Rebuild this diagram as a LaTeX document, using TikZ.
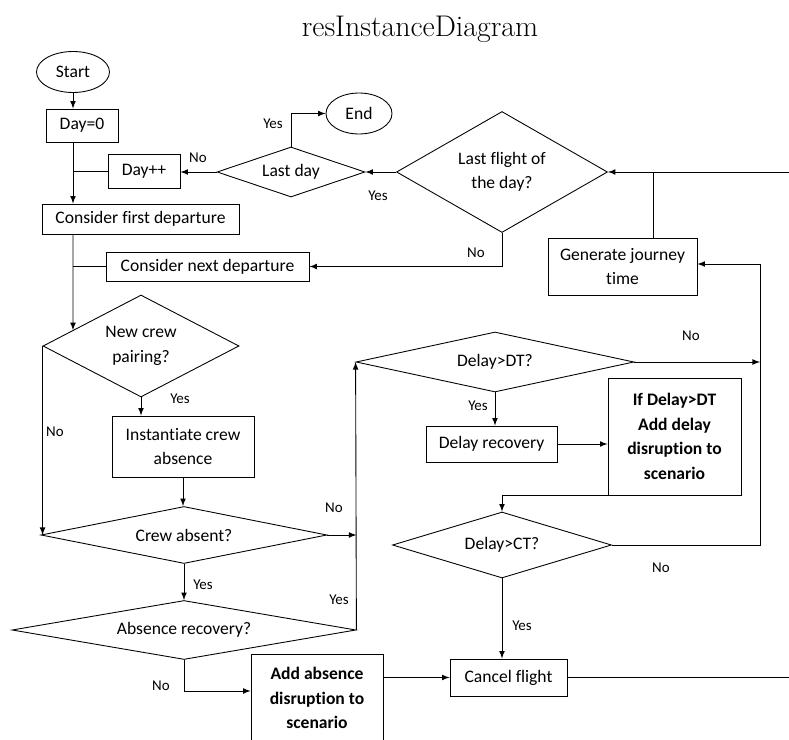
\documentclass[tikz,border=0pt]{standalone}
\usepackage{fontspec}
\newfontfamily\calibri[Ligatures=NoCommon]{Carlito}
\usetikzlibrary{shapes.geometric, arrows}
\tikzstyle{terminal} = [ellipse, 
draw=black, 
inner sep=0pt, 
font=\calibri\fontsize{10}{14}\selectfont]
\tikzstyle{process} = [rectangle, 
draw=black, 
align=center, 
inner sep=1pt, 
font=\calibri\fontsize{10}{14}\selectfont]
\tikzstyle{outcome} = [process, 
font=\calibri\bfseries\fontsize{10}{14}\selectfont]
\tikzstyle{decision} = [diamond, 
draw=black, 
align=center, 
inner sep=1pt, 
font=\calibri\fontsize{10}{14}\selectfont]
\tikzstyle{answer} = [inner sep=0pt, 
font=\calibri\fontsize{8.5}{10}\selectfont]
\tikzstyle{arrow} = [->,>=latex]

\begin{document}
\begin{tikzpicture}[x=0.02cm, y=-0.02cm, line width=0.5pt]
\useasboundingbox (0,0) rectangle (789,740);
\clip (0,0) rectangle (789,740);

\node (title) [anchor=base] at (420,37) {\fontsize{17}{20}\selectfont resInstanceDiagram};

\node (start) [terminal, minimum width=1.46cm, minimum height=0.82cm] at (73,72) {Start};
\node (end) [terminal, minimum width=1.32cm, minimum height=0.82cm] at (359,113.5) {End};
\node (day0) [process, minimum width=1.44cm, minimum height=0.66cm] at (82,125.5) {Day=0};
\node (dayinc) [process, minimum width=1.44cm, minimum height=0.68cm] at (144,171) {Day++};
\node (lastday) [decision, minimum width=2.96cm, minimum height=1cm, shape aspect=2.96] at (291,172) {Last day};
\node (lastflight) [decision, minimum width=4.22cm, minimum height=2.42cm, shape aspect=1.74] at (502,172) {Last flight of\\the day?};
\node (cfirst) [process, minimum width=3.94cm, minimum height=0.6cm] at (140.5,219) {Consider first departure};
\node (cnext) [process, minimum width=4.06cm, minimum height=0.58cm] at (207.5,266.5) {Consider next departure};
\node (generate) [process, minimum width=2.98cm, minimum height=1.14cm] at (622.5,266.5) {Generate journey\\time};
\node (newcrew) [decision, minimum width=3.92cm, minimum height=2.04cm, shape aspect=1.92] at (141,346) {New crew\\pairing?};
\node (instant) [process, minimum width=2.84cm, minimum height=1.22cm] at (183,446.5) {Instantiate crew\\absence};
\node (crewabsent) [decision, minimum width=5.72cm, minimum height=1.14cm, shape aspect=5] at (184,535) {Crew absent?};
\node (absrec) [decision, minimum width=6.88cm, minimum height=1.18cm, shape aspect=5.83] at (184,630) {Absence recovery?};
\node (addabs) [outcome, minimum width=2.64cm, minimum height=1.76cm] at (317,698) {Add absence\\disruption to\\scenario};
\node (delaydt) [decision, minimum width=5.56cm, minimum height=1.2cm, shape aspect=4.63] at (495,362) {Delay>DT?};
\node (delayrec) [process, minimum width=2.62cm, minimum height=0.72cm] at (491.5,444) {Delay recovery};
\node (ifdelay) [outcome, minimum width=2.66cm, minimum height=2.34cm] at (674.5,436.5) {If Delay>DT\\Add delay\\disruption to\\scenario};
\node (delayct) [decision, minimum width=4.38cm, minimum height=1.32cm, shape aspect=3.32] at (502,545) {Delay>CT?};
\node (cancel) [process, minimum width=2.34cm, minimum height=0.74cm] at (508.5,677.5) {Cancel flight};

\coordinate (loopback) at (760,264);
\coordinate (rimflight) at (795,172);
\coordinate (rimcancel) at (795,677.5);
\coordinate (crewdrop) at (73,300);
\coordinate (feed) at ([xshift=0.61cm]generate.north);

% day loop
\draw [arrow] (start.south) -- (start.south |- day0.north);
\draw [arrow] (start.south |- day0.south) -- (start.south |- cfirst.north);
\draw (dayinc.west) -- (start.south |- dayinc.west);
\draw [arrow] (lastday.west) -- (lastday.west -| dayinc.east);
\draw [arrow] (lastday.north) |- (end.west);
\draw [arrow] (lastflight.west) -- (lastday.east);
\draw [arrow] (lastflight.south) |- (cnext.east);
\draw (cnext.west) -- (start.south |- cnext.west);
\draw [arrow] (rimflight) -- (lastflight.east);
\draw (feed) -- (feed |- lastflight.east);

% crew branch
\draw [arrow] (start.south |- cfirst.south) -- (intersection of start.south--crewdrop and newcrew.west--newcrew.north);
\draw [arrow] (newcrew.west) -- (newcrew.west |- crewabsent.west);
\draw [arrow] (newcrew.south) -- (newcrew.south |- instant.north);
\draw [arrow] (instant.south) -- (instant.south |- crewabsent.north);
\draw [arrow] (crewabsent.east) -- (crewabsent.east -| absrec.east);
\draw [arrow] (crewabsent.south) -- (absrec.north);
\draw [arrow] (absrec.east) -- (delaydt.west);
\draw [arrow] (absrec.south) |- ([yshift=0.14cm]addabs.west);
\draw [arrow] (addabs.east |- cancel.west) -- (cancel.west);
\draw (cancel.east) -- (rimcancel);

% delay branch
\draw [arrow] (delaydt.east) -- (delaydt.east -| loopback);
\draw [arrow] (delaydt.south) -- (delaydt.south |- delayrec.north);
\draw [arrow] (delayrec.east) -- (ifdelay.west |- delayrec.east);
\draw [arrow] (ifdelay.south west) -| (delayct.north);
\draw [arrow] (delayct.east) -| (loopback) -- (loopback -| generate.east);
\draw [arrow] (delayct.south) -- (delayct.south |- cancel.north);

% answers
\node (lastdayno) [answer] at (198,158) {No};
\node (lastdayyes) [answer] at (273,124) {Yes};
\node (lastflightyes) [answer] at (378,196) {Yes};
\node (lastflightno) [answer] at (476,253) {No};
\node (newcrewno) [answer] at (55,432) {No};
\node (newcrewyes) [answer] at (180,399) {Yes};
\node (crewabsentno) [answer] at (334,508) {No};
\node (crewabsentyes) [answer] at (203,585) {Yes};
\node (absrecyes) [answer] at (339,600) {Yes};
\node (absrecno) [answer] at (161,686) {No};
\node (delaydtno) [answer] at (691,336) {No};
\node (delaydtyes) [answer] at (478,406) {Yes};
\node (delayctno) [answer] at (661,568) {No};
\node (delayctyes) [answer] at (522,626) {Yes};

\end{tikzpicture}
\end{document}
